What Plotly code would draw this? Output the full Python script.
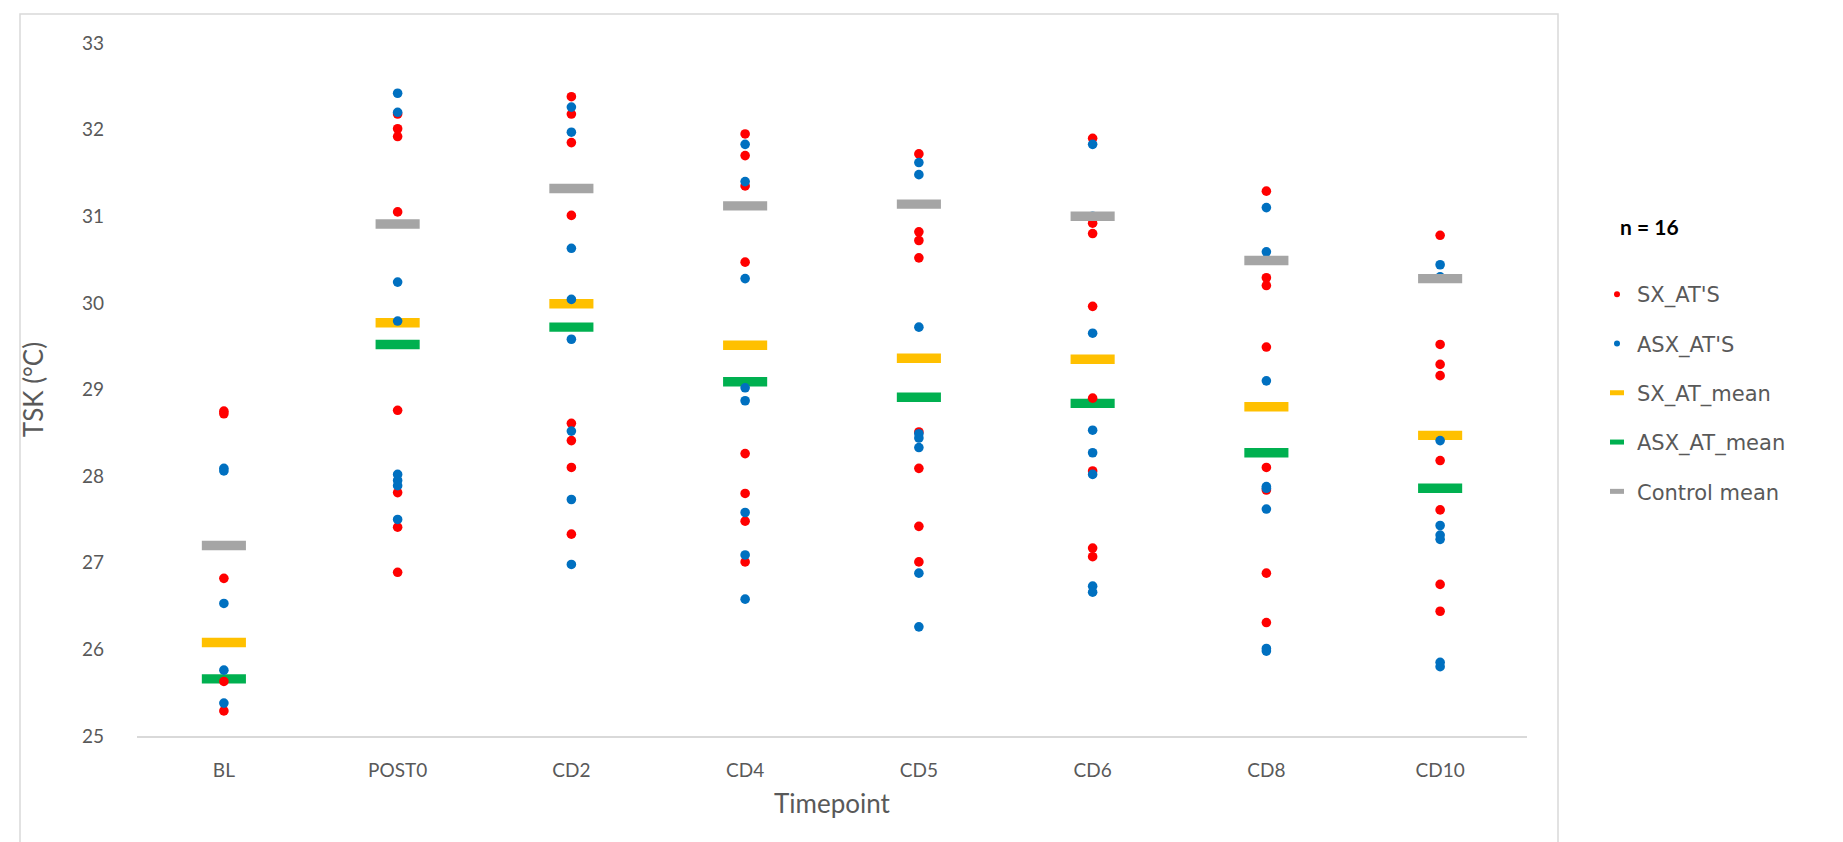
import plotly.graph_objects as go

categories = ["BL", "POST0", "CD2", "CD4", "CD5", "CD6", "CD8", "CD10"]

# Individual athletes (one list per timepoint)
sx_ats = [
    [28.75, 28.72, 26.82, 25.63, 25.29],
    [32.18, 32.01, 31.92, 31.05, 28.76, 27.81, 27.41, 26.89],
    [32.38, 32.18, 31.85, 31.01, 28.61, 28.41, 28.10, 27.33],
    [31.95, 31.70, 31.35, 30.47, 28.26, 27.80, 27.48, 27.01],
    [31.72, 30.82, 30.72, 30.52, 28.51, 28.09, 27.42, 27.01],
    [31.90, 30.92, 30.80, 29.96, 28.90, 28.06, 27.17, 27.07],
    [31.29, 30.29, 30.20, 29.49, 28.10, 27.84, 26.88, 26.31],
    [30.78, 29.52, 29.29, 29.16, 28.18, 27.61, 26.75, 26.44],
]
asx_ats = [
    [28.09, 28.06, 26.53, 25.76, 25.38],
    [32.42, 32.20, 30.24, 29.79, 28.02, 27.95, 27.89, 27.50],
    [32.26, 31.97, 30.63, 30.04, 29.58, 28.52, 27.73, 26.98],
    [31.83, 31.40, 30.28, 29.02, 28.87, 27.58, 27.09, 26.58],
    [31.62, 31.48, 29.72, 28.49, 28.44, 28.33, 26.88, 26.26],
    [31.83, 31.00, 29.65, 28.53, 28.27, 28.02, 26.73, 26.66],
    [31.10, 30.59, 29.10, 27.88, 27.86, 27.62, 26.01, 25.98],
    [30.44, 30.30, 28.41, 27.43, 27.32, 27.27, 25.85, 25.80],
]
sx_mean = [26.08, 29.77, 29.99, 29.51, 29.36, 29.35, 28.80, 28.47]
asx_mean = [25.66, 29.52, 29.72, 29.09, 28.91, 28.84, 28.27, 27.86]
control_mean = [27.20, 30.91, 31.32, 31.12, 31.14, 31.00, 30.49, 30.28]

RED = "#FF0000"
BLUE = "#0070C0"
YELLOW = "#FFC000"
GREEN = "#00B050"
GREY = "#A5A5A5"
TXT = "#595959"
FONT = "Lato, 'Open Sans', sans-serif"
LEGFONT = "'DejaVu Sans', 'Open Sans', sans-serif"


def flatten(groups):
    xs, ys = [], []
    for cat, vals in zip(categories, groups):
        for v in vals:
            xs.append(cat)
            ys.append(v)
    return xs, ys


fig = go.Figure()


def mean_trace(vals, color):
    return go.Scatter(
        x=categories, y=vals, mode="markers", showlegend=False, hoverinfo="y",
        marker=dict(symbol="line-ew", size=31.5, color=color,
                    line=dict(color=color, width=9.4)),
    )


def dot_trace(groups, color):
    xs, ys = flatten(groups)
    return go.Scatter(
        x=xs, y=ys, mode="markers", showlegend=False, hoverinfo="y",
        marker=dict(symbol="circle", size=9.6, color=color, line=dict(width=0)),
    )


fig.add_trace(mean_trace(sx_mean, YELLOW))
fig.add_trace(mean_trace(asx_mean, GREEN))
fig.add_trace(dot_trace(sx_ats, RED))
fig.add_trace(dot_trace(asx_ats, BLUE))
fig.add_trace(mean_trace(control_mean, GREY))

# legend entries
legend_items = [
    ("SX_AT'S", RED, "dot"),
    ("ASX_AT'S", BLUE, "dot"),
    ("SX_AT_mean", YELLOW, "line"),
    ("ASX_AT_mean", GREEN, "line"),
    ("Control mean", GREY, "line"),
]
for i, (name, color, kind) in enumerate(legend_items):
    if kind == "dot":
        mk = dict(symbol="circle", size=6, color=color, line=dict(width=0))
    else:
        mk = dict(symbol="line-ew", size=10, color=color, line=dict(color=color, width=5))
    fig.add_trace(go.Scatter(
        x=[None], y=[None], mode="markers", name=name, marker=mk,
        legendgroup=f"g{i}", showlegend=True,
    ))

W, H = 1843, 842
L, R, T, B = 129, 324, 35, 114
pw, ph = W - L - R, H - T - B


def px_x(p):
    return (p - L) / pw


def px_y(p):
    return (H - B - p) / ph


fig.update_layout(
    width=W, height=H,
    margin=dict(l=L, r=R, t=T, b=B),
    paper_bgcolor="white", plot_bgcolor="white",
    font=dict(family=FONT, color=TXT, size=19),
    showlegend=True,
    legend=dict(
        x=px_x(1589), y=px_y(266), xanchor="left", yanchor="top",
        font=dict(family=LEGFONT, size=21, color=TXT),
        tracegroupgap=19, traceorder="grouped",
        bgcolor="rgba(0,0,0,0)", itemwidth=30,
    ),
    xaxis=dict(
        type="category", categoryorder="array", categoryarray=categories,
        range=[-0.5, len(categories) - 0.5],
        showgrid=False, zeroline=False,
        showline=True, linecolor="#D9D9D9", linewidth=2,
        ticks="", ticklabelstandoff=16,
        tickfont=dict(family=FONT, size=19, color=TXT),
        title=dict(text="Timepoint", font=dict(family=FONT, size=26, color=TXT), standoff=15),
        automargin=False,
    ),
    yaxis=dict(
        range=[25, 33], dtick=1, tick0=25,
        showgrid=False, zeroline=False, showline=False,
        ticks="", ticklabelstandoff=32,
        tickfont=dict(family=FONT, size=19, color=TXT),
        title=dict(text="TSK (°C)", font=dict(family=FONT, size=26, color=TXT), standoff=30),
        automargin=False,
    ),
    annotations=[
        dict(text="<b>n = 16</b>", x=px_x(1610), y=px_y(219), xref="paper", yref="paper",
             xanchor="left", yanchor="middle", showarrow=False,
             font=dict(family=FONT, size=21, color="#000000")),
    ],
    shapes=[
        dict(type="rect", xref="paper", yref="paper",
             x0=px_x(12), x1=px_x(1550), y0=px_y(900), y1=px_y(6),
             line=dict(color="#D9D9D9", width=1.5), fillcolor="rgba(0,0,0,0)", layer="below"),
    ],
)

fig.write_html("out.html")
